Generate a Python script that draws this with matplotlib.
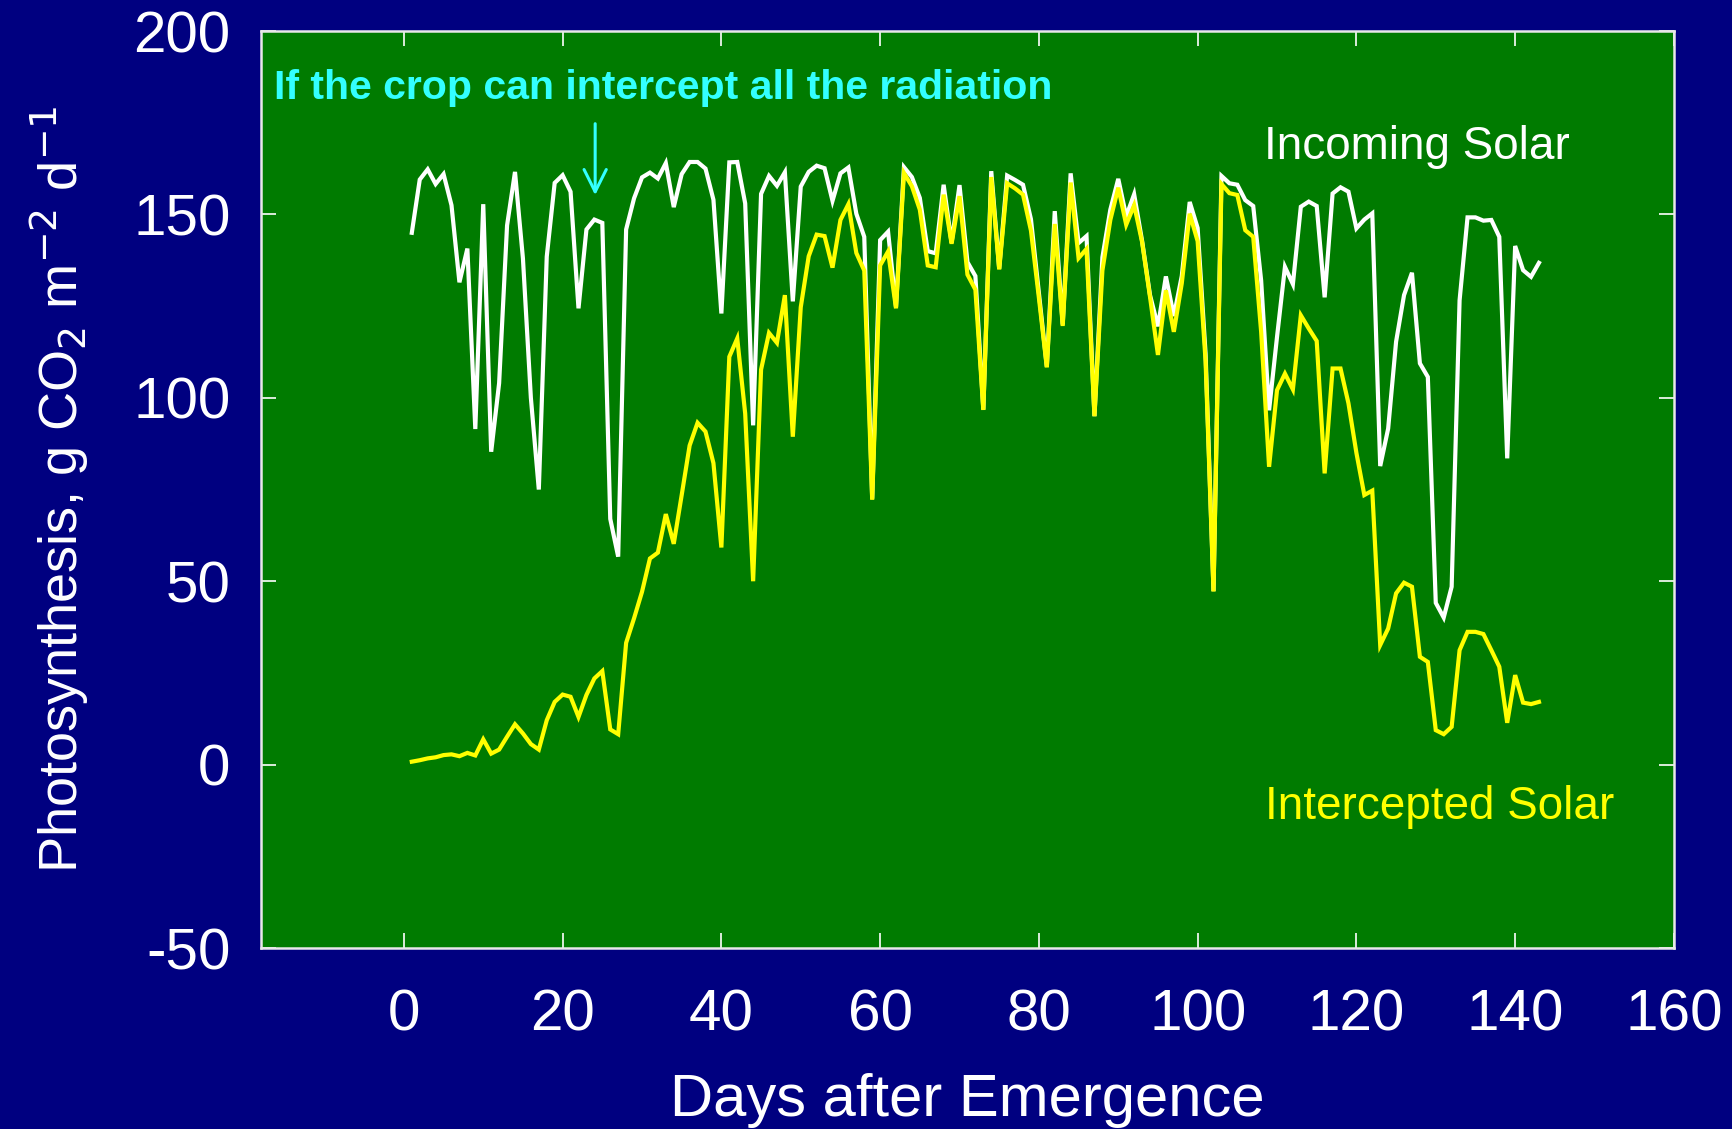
import numpy as np
import matplotlib
matplotlib.use("Agg")
import matplotlib.pyplot as plt

plt.rcParams['font.family'] = ['Liberation Sans', 'DejaVu Sans']
plt.rcParams['axes.unicode_minus'] = False

# daily values, days 1..143
days = np.arange(1, 144)

incoming = [
    145, 159.5, 162.3, 158.3, 161, 152.5, 131.5, 140.7, 91.5, 152.8,
    85.3, 104, 147, 161.6, 138, 100, 75, 138.5, 158.6, 160.7,
    156.2, 124.4, 145.9, 148.6, 147.7, 67, 56.7, 145.9, 154.4, 160.1,
    161.4, 159.8, 164, 152, 161, 164.3, 164.3, 162.5, 154, 123,
    164.2, 164.3, 153, 92.5, 155.6, 160.5, 157.8, 161.5, 126.3, 157.6,
    161.6, 163.3, 162.6, 153.7, 161.2, 162.8, 150.2, 143.9, 72.5, 143,
    145.3, 124.8, 162.9, 160.2, 154.5, 140, 139.4, 158.1, 142.3, 158,
    137, 133.2, 96.8, 161.8, 135.2, 160.6, 159.4, 158.1, 148.7, 128.5,
    108.5, 150.9, 120, 161.2, 142.2, 144.1, 95, 138.3, 151.3, 159.7,
    149.5, 155.5, 142.8, 128, 119.5, 133.1, 122.3, 133.2, 153.4, 146.3,
    112, 47.3, 160.5, 158.5, 158.1, 153.9, 152.3, 132, 96.6, 116.6,
    135.7, 131, 152.1, 153.5, 152.3, 127.4, 155.7, 157.4, 156.2, 146.2,
    148.6, 150.3, 81.4, 91.6, 115.3, 128, 134.1, 109.4, 105.7, 44.1,
    40.1, 48.5, 126.6, 149.2, 149.2, 148.3, 148.5, 143.9, 83.5, 141.4,
    134.8, 133, 136.8,
]

intercepted = [
    0.8, 1.2, 1.7, 2, 2.6, 2.8, 2.3, 3.2, 2.5, 6.9,
    3.0, 4.1, 7.6, 11, 8.5, 5.6, 4.1, 12.1, 17.1, 19.1,
    18.5, 13, 19, 23.5, 25.5, 9.6, 8.3, 33.2, 39.9, 47.1,
    56.2, 57.8, 68.3, 60.2, 73.5, 87, 93.2, 90.8, 82.2, 59.2,
    111.2, 116.2, 95.7, 50, 107.7, 117.7, 115, 128, 89.4, 124.7,
    138.6, 144.5, 144.1, 135.5, 148.5, 152.8, 139.5, 134.7, 72.2, 136.1,
    139.9, 124.4, 161.3, 157.7, 151.3, 136.1, 135.6, 155.4, 142, 155,
    133.6, 129.5, 96.7, 160.2, 135, 158.5, 157.1, 155.4, 145.6, 127.3,
    108.3, 147.4, 119.6, 158.7, 138.1, 140.6, 95, 134.7, 148.5, 157.3,
    147.2, 152.5, 142.5, 127.5, 111.7, 129.3, 118, 131.2, 150.2, 142.7,
    110, 47.2, 158.3, 155.8, 155.3, 145.7, 143.9, 118, 81.2, 102.1,
    106.6, 102.3, 122.5, 118.9, 115.5, 79.4, 108, 108, 98.5, 85,
    73.5, 74.7, 32.6, 37.1, 46.7, 49.6, 48.5, 29.4, 28, 9.4,
    8.3, 10.3, 31.2, 36.2, 36.2, 35.6, 31.2, 26.7, 11.4, 24.4,
    16.9, 16.5, 17.1,
]

xticks = [0, 20, 40, 60, 80, 100, 120, 140, 160]
yticks = [-50, 0, 50, 100, 150, 200]

navy = "#000080"
green = "#007b00"
cyan = "#33ffff"

fig = plt.figure(figsize=(17.33, 11.29), dpi=100, facecolor=navy)
ax = fig.add_axes([0.1506, 0.1603, 0.8153, 0.8122])
ax.set_facecolor(green)

ax.plot(days, incoming, color="white", lw=3.0, solid_joinstyle="miter")
ax.plot(days, intercepted, color="#ffff00", lw=3.0, solid_joinstyle="miter")

ax.set_xlim(-18, 160)
ax.set_ylim(-50, 200)
ax.set_xticks(xticks)
ax.set_yticks(yticks)

for s in ax.spines.values():
    s.set_color("#e8e8e8")
    s.set_linewidth(1.8)

ax.tick_params(axis="both", direction="in", length=11, width=1.2,
               color="white", labelcolor="white", labelsize=42,
               top=True, right=True)
ax.tick_params(axis="x", pad=29)
ax.tick_params(axis="y", pad=22)

ax.set_xlabel("Days after Emergence", color="white", fontsize=43, labelpad=22)
ax.set_ylabel("Photosynthesis, g CO$_2$ m$^{-2}$ d$^{-1}$", color="white",
              fontsize=39, labelpad=30)

ax.text(-16.3, 184.5, "If the crop can intercept all the radiation",
        color=cyan, fontsize=29.5, fontweight="bold", va="center", ha="left")
ax.annotate("", xy=(24.1, 154.5), xytext=(24.1, 175.5),
            arrowprops=dict(arrowstyle="->", color=cyan, lw=2.2,
                            mutation_scale=40))

ax.text(108.3, 168.4, "Incoming Solar", color="white", fontsize=33,
        va="center", ha="left")
ax.text(108.5, -11.6, "Intercepted Solar", color="#ffff00", fontsize=33,
        va="center", ha="left")

fig.savefig("out.png", dpi=100, facecolor=fig.get_facecolor())
